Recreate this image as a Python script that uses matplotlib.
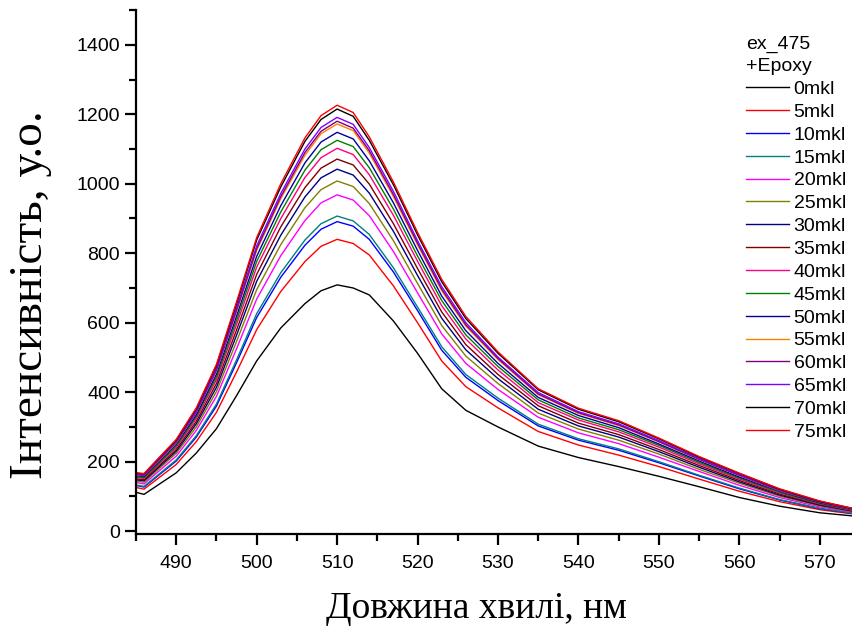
import matplotlib
matplotlib.use("Agg")
import matplotlib.pyplot as plt
from matplotlib.ticker import MultipleLocator

# wavelength grid, nm
wl = [485, 486, 490, 492.5, 495, 497.5, 500, 503, 506, 508, 510, 512, 514, 517,
      520, 523, 526, 530, 535, 540, 545, 550, 555, 560, 565, 570, 575]

# intensity, a.u.
c0 = [112, 106, 168, 225, 295, 390, 490, 585, 655, 692, 709, 700, 680, 605, 512, 410, 348, 300, 245, 212, 186, 158, 128, 97, 72, 53, 42]
c5 = [126, 121, 192, 258, 342, 458, 580, 690, 776, 820, 840, 828, 795, 706, 600, 490, 416, 355, 287, 248, 219, 186, 150, 115, 85, 62, 47]
c10 = [132, 127, 202, 271, 360, 485, 615, 731, 823, 869, 891, 878, 840, 746, 635, 521, 443, 376, 303, 262, 233, 197, 159, 122, 90, 65, 49]
c15 = [133, 129, 205, 275, 366, 493, 626, 744, 838, 885, 907, 893, 854, 758, 645, 531, 451, 383, 308, 266, 237, 200, 161, 124, 91, 66, 49]
c20 = [140, 136, 216, 290, 388, 525, 668, 793, 894, 945, 968, 953, 908, 805, 686, 568, 483, 408, 328, 283, 252, 213, 172, 132, 97, 70, 52]
c25 = [144, 141, 224, 300, 402, 546, 695, 825, 931, 983, 1008, 992, 943, 836, 713, 592, 504, 425, 340, 294, 262, 222, 178, 138, 101, 73, 53]
c30 = [148, 145, 230, 309, 414, 564, 719, 852, 962, 1017, 1042, 1025, 973, 863, 736, 613, 522, 439, 351, 303, 271, 229, 184, 142, 104, 75, 54]
c35 = [151, 148, 235, 316, 425, 579, 739, 876, 989, 1045, 1071, 1054, 999, 885, 756, 631, 537, 451, 361, 311, 278, 235, 189, 146, 107, 77, 55]
c40 = [155, 152, 241, 324, 436, 595, 760, 900, 1018, 1075, 1102, 1084, 1026, 909, 777, 649, 553, 464, 370, 320, 286, 242, 194, 150, 110, 79, 56]
c45 = [157, 154, 245, 330, 444, 607, 776, 919, 1039, 1098, 1125, 1107, 1046, 927, 792, 664, 565, 474, 378, 326, 292, 247, 198, 153, 112, 80, 57]
c50 = [160, 157, 250, 335, 452, 619, 791, 937, 1060, 1120, 1148, 1129, 1066, 945, 808, 677, 577, 483, 385, 333, 298, 251, 202, 156, 115, 82, 58]
c55 = [162, 160, 254, 342, 461, 632, 808, 957, 1082, 1144, 1172, 1153, 1088, 963, 824, 692, 590, 494, 393, 339, 304, 257, 206, 160, 117, 84, 59]
c60 = [163, 161, 256, 343, 464, 636, 813, 963, 1090, 1151, 1180, 1160, 1095, 969, 829, 697, 594, 497, 395, 341, 306, 258, 207, 161, 118, 84, 59]
c65 = [164, 162, 258, 346, 467, 642, 821, 972, 1100, 1162, 1191, 1171, 1104, 978, 836, 704, 600, 501, 399, 344, 309, 261, 209, 162, 119, 85, 60]
c70 = [167, 165, 262, 352, 476, 654, 838, 991, 1122, 1185, 1215, 1194, 1125, 997, 853, 718, 612, 512, 407, 351, 315, 266, 213, 166, 121, 86, 61]
c75 = [168, 166, 264, 355, 480, 660, 845, 1000, 1132, 1196, 1226, 1205, 1135, 1005, 860, 725, 618, 516, 410, 354, 318, 268, 215, 167, 122, 87, 61]

series = [c0, c5, c10, c15, c20, c25, c30, c35, c40, c45, c50, c55, c60, c65, c70, c75]
labels = ['0mkl', '5mkl', '10mkl', '15mkl', '20mkl', '25mkl', '30mkl', '35mkl',
          '40mkl', '45mkl', '50mkl', '55mkl', '60mkl', '65mkl', '70mkl', '75mkl']
colors = ['#000000', '#FF0000', '#0000FF', '#008080', '#FF00FF', '#808000',
          '#000080', '#800000', '#FF0080', '#008000', '#0000A0', '#FF8000',
          '#800080', '#8000FF', '#000000', '#FF0000']

plt.rcParams['font.family'] = ['Liberation Sans', 'DejaVu Sans']

fig = plt.figure(figsize=(8.52, 6.30), dpi=100)
ax = fig.add_axes([0.1596, 0.1524, 0.8404, 0.8317])

for y, lab, col in zip(series, labels, colors):
    ax.plot(wl, y, color=col, lw=1.0, label=lab)

ax.set_xlim(485, 574)
ax.set_ylim(-8, 1500)
ax.xaxis.set_major_locator(MultipleLocator(10))
ax.xaxis.set_minor_locator(MultipleLocator(5))
ax.yaxis.set_major_locator(MultipleLocator(200))
ax.yaxis.set_minor_locator(MultipleLocator(100))
ax.set_yticks(range(0, 1401, 200))

for s in ['top', 'right']:
    ax.spines[s].set_visible(False)
for s in ['left', 'bottom']:
    ax.spines[s].set_linewidth(1.6)
ax.tick_params(which='major', direction='out', length=8, width=1.6, labelsize=14)
ax.tick_params(axis='x', which='major', pad=7)
ax.tick_params(which='minor', direction='out', length=5, width=1.6)

ax.set_xlabel('Довжина хвилі, нм', family='Liberation Serif', fontsize=27)
ax.set_ylabel('Інтенсивність, у.о.', family='Liberation Serif', fontsize=34)
ax.xaxis.set_label_coords(0.476, -0.11)
ax.yaxis.set_label_coords(-0.117, 0.456)

leg = ax.legend(loc='upper left', bbox_to_anchor=(0.852, 0.951), frameon=False,
                title='ex_475\n+Epoxy', fontsize=14, title_fontsize=14,
                handlelength=2.2, handletextpad=0.25, labelspacing=0.27,
                borderaxespad=0.0, borderpad=0.0)
leg._legend_box.align = 'left'
leg.get_title().set_linespacing(1.4)

fig.savefig('out.png', dpi=100)
